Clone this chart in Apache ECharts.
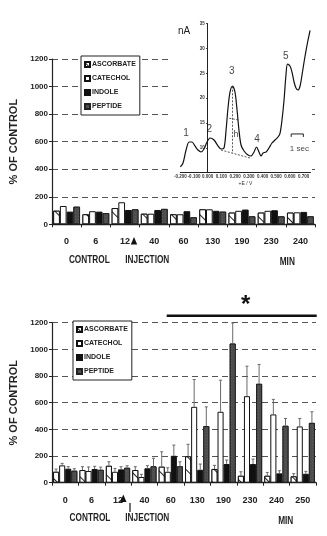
<!DOCTYPE html>
<html>
<head>
<meta charset="utf-8">
<script src="https://cdn.jsdelivr.net/npm/echarts@6/dist/echarts.min.js"></script>
<style>
  html, body { margin: 0; padding: 0; background: #fff; }
  #chart { width: 327px; height: 536px; }
</style>
</head>
<body>
<div id="chart"></div>
<script>
// ---- data ----
const seriesNames = ['ASCORBATE', 'CATECHOL', 'INDOLE', 'PEPTIDE'];
const percentTicks = [0, 200, 400, 600, 800, 1000, 1200];

// upper panel: single experiment, % of control
const upperCategories = ['0', '6', '12', '40', '60', '130', '190', '230', '240'];
const upperAscorbate = [99, 73, 118, 77, 73, 109, 85, 85, 85];
const upperCatechol  = [133, 95, 160, 77, 73, 109, 98, 98, 87];
const upperIndole    = [92, 92, 104, 104, 95, 98, 107, 102, 90];
const upperPeptide   = [128, 82, 109, 112, 51, 92, 58, 58, 58];

// lower panel: group means with upper error
const lowerCategories = ['0', '6', '12', '40', '60', '130', '190', '230', '240', '250'];
const lowerAscorbate = [82, 95, 127, 95, 120, 198, 103, 52, 52, 48];
const lowerCatechol  = [130, 88, 82, 43, 82, 569, 532, 649, 512, 422];
const lowerIndole    = [105, 103, 100, 108, 202, 97, 140, 140, 70, 67];
const lowerPeptide   = [90, 97, 112, 123, 123, 425, 1044, 742, 427, 449];
const errAscorbate = [20, 25, 30, 25, 112, 90, 27, 30, 25, 20];
const errCatechol  = [15, 30, 25, 20, 30, 205, 237, 225, 113, 60];
const errIndole    = [15, 20, 20, 20, 80, 43, 30, 37, 20, 18];
const errPeptide   = [15, 20, 15, 60, 34, 144, 154, 145, 55, 83];

// inset voltammogram: potential (V) and current (nA)
const voltPotential = [-0.199, -0.180, -0.158, -0.136, -0.115, -0.093, -0.071, -0.049, -0.027, -0.005,
  0.017, 0.046, 0.075, 0.097, 0.119, 0.134, 0.148, 0.163, 0.181, 0.199, 0.214, 0.228, 0.243, 0.265,
  0.294, 0.316, 0.338, 0.356, 0.374, 0.389, 0.404, 0.426, 0.447, 0.469, 0.491, 0.513, 0.528, 0.542,
  0.557, 0.571, 0.582, 0.600, 0.615, 0.630, 0.644, 0.659, 0.674, 0.688, 0.703, 0.718, 0.732, 0.747];
const voltCurrent = [6.15, 6.95, 9.57, 11.18, 11.18, 10.38, 9.57, 9.17, 9.77, 11.18,
  11.99, 11.58, 10.38, 9.77, 9.97, 13.60, 18.03, 21.25, 22.46, 21.25, 17.62, 13.60, 10.58, 9.37,
  8.56, 8.36, 9.17, 10.17, 9.17, 8.36, 8.97, 9.17, 9.97, 10.98, 11.58, 12.19, 12.99, 15.61,
  19.64, 24.67, 26.88, 26.48, 25.27, 23.26, 22.05, 21.65, 22.46, 24.67, 27.29, 29.70, 31.72, 33.68];
const peakLabels = [['1', -0.158, 12.9], ['2', 0.012, 13.7], ['3', 0.175, 25.5], ['4', 0.360, 11.7], ['5', 0.569, 28.5]];

// ---- styling helpers ----
const FONT = '"Liberation Sans", Arial, sans-serif';
const CAT_GAP = 0.08;

const barStyles = [
  { color: '#fff', borderColor: '#111', borderWidth: 1,
    decal: { symbol: 'rect', symbolSize: 1, color: '#222', backgroundColor: '#fff',
             dashArrayX: [1, 0], dashArrayY: [1, 9], rotation: Math.PI / 4 } },
  { color: '#fff', borderColor: '#111', borderWidth: 1 },
  { color: '#111', borderColor: '#111', borderWidth: 1 },
  { color: '#4d4d4d', borderColor: '#222', borderWidth: 1,
    decal: { symbol: 'circle', symbolSize: 0.7, color: 'rgba(255,255,255,0.35)', backgroundColor: '#4d4d4d',
             dashArrayX: [1, 2], dashArrayY: [1, 2] } }
];

function barSeries(name, idx, values, axisIdx) {
  return {
    name, type: 'bar', xAxisIndex: axisIdx, yAxisIndex: axisIdx,
    data: values, barGap: '0%', barCategoryGap: (CAT_GAP * 100) + '%',
    itemStyle: barStyles[idx], z: 2, silent: true
  };
}

function errorSeries(values, errs, barIdx, axisIdx) {
  return {
    type: 'custom', xAxisIndex: axisIdx, yAxisIndex: axisIdx, z: 3, silent: true,
    data: values.map((v, i) => [i, v, v + errs[i]]),
    renderItem(params, api) {
      const i = api.value(0);
      const base = api.coord([i, api.value(1)]);
      const top = api.coord([i, api.value(2)]);
      const band = api.size([1, 0])[0];
      const w = band * (1 - CAT_GAP) / 4;
      const x = base[0] + (barIdx - 1.5) * w;
      const st = { stroke: '#6a6a6a', lineWidth: 1 };
      return { type: 'group', children: [
        { type: 'line', shape: { x1: x, y1: base[1], x2: x, y2: top[1] }, style: st },
        { type: 'line', shape: { x1: x - 1.5, y1: top[1], x2: x + 1.5, y2: top[1] }, style: st }
      ] };
    }
  };
}

function percentAxis(gridIndex) {
  return {
    type: 'value', gridIndex, min: 0, max: 1200, interval: 200,
    name: '% OF CONTROL', nameLocation: 'middle', nameGap: 33, nameRotate: 90,
    nameTextStyle: { fontFamily: FONT, fontWeight: 'bold', fontSize: 11, color: '#222' },
    axisLine: { show: true, lineStyle: { color: '#222', width: 1.2 } },
    axisTick: { show: true, length: 3, lineStyle: { color: '#222' } },
    axisLabel: { fontFamily: FONT, fontWeight: 'bold', fontSize: 8, color: '#222', margin: 4,
                 formatter: v => percentTicks.includes(v) ? String(v) : '' },
    splitLine: { show: true, lineStyle: { color: '#555', type: [6, 4], width: 1 } }
  };
}

function categoryAxis(gridIndex, cats) {
  return {
    type: 'category', gridIndex, data: cats,
    axisLine: { show: true, lineStyle: { color: '#222', width: 1.3 } },
    axisTick: { show: true, length: 3, lineStyle: { color: '#222' } },
    axisLabel: { fontFamily: FONT, fontWeight: 'bold', fontSize: 9, color: '#222', margin: 13 }
  };
}

const legendBase = {
  orient: 'vertical', icon: 'rect', itemWidth: 5, itemHeight: 5, itemGap: 7,
  backgroundColor: '#fff', borderColor: '#222', borderWidth: 1, padding: [5, 4, 5, 3],
  textStyle: { fontFamily: FONT, fontWeight: 'bold', fontSize: 7, color: '#222', padding: [0, 0, 0, -3] },
  data: seriesNames, selectedMode: false
};

const tinyLabel = { fontFamily: FONT, fontWeight: 'bold', fontSize: 4.5, color: '#333' };

// condensed caption text placed under the axes
function caption(text, x, y) {
  return { type: 'text', z: 6, x, y, scaleX: 0.75,
    style: { text, align: 'center', verticalAlign: 'middle', font: 'bold 11px ' + FONT, fill: '#222' } };
}

const option = {
  animation: false,
  backgroundColor: '#fff',
  grid: [
    { left: 43, top: 59, width: 272, height: 165.3 },
    { left: 180.3, top: 23.7, width: 130.2, height: 149, z: 10 },
    { left: 44, top: 322.7, width: 272, height: 160 }
  ],
  legend: [
    Object.assign({}, legendBase, { left: 81, top: 56 }),
    Object.assign({}, legendBase, { left: 73, top: 321 })
  ],
  xAxis: [
    categoryAxis(0, upperCategories),
    { type: 'value', gridIndex: 1, min: -0.2, max: 0.75, interval: 0.1, z: 10,
      name: '+E / V', nameLocation: 'middle', nameGap: 8,
      nameTextStyle: { fontFamily: FONT, fontSize: 5, color: '#333' },
      axisLine: { show: true, onZero: false, lineStyle: { color: '#222', width: 1 } },
      axisTick: { show: false },
      axisLabel: Object.assign({ margin: 2, showMaxLabel: false,
        formatter: v => (v > 0.72 ? '' : v.toFixed(3)) }, tinyLabel),
      splitLine: { show: false } },
    categoryAxis(2, lowerCategories)
  ],
  yAxis: [
    percentAxis(0),
    // current axis crosses the potential axis at 0 V
    { type: 'value', gridIndex: 1, min: 5, max: 35, interval: 5, z: 10, offset: -27.4,
      axisLine: { show: true, onZero: false, lineStyle: { color: '#222', width: 1 } },
      axisTick: { show: true, length: 1.5, lineStyle: { color: '#222' } },
      axisLabel: Object.assign({ margin: 3, formatter: v => (v === 5 ? '' : String(v)) }, tinyLabel),
      splitLine: { show: false } },
    percentAxis(2)
  ],
  series: [
    barSeries('ASCORBATE', 0, upperAscorbate, 0),
    barSeries('CATECHOL', 1, upperCatechol, 0),
    barSeries('INDOLE', 2, upperIndole, 0),
    barSeries('PEPTIDE', 3, upperPeptide, 0),

    barSeries('ASCORBATE', 0, lowerAscorbate, 2),
    barSeries('CATECHOL', 1, lowerCatechol, 2),
    barSeries('INDOLE', 2, lowerIndole, 2),
    barSeries('PEPTIDE', 3, lowerPeptide, 2),
    errorSeries(lowerAscorbate, errAscorbate, 0, 2),
    errorSeries(lowerCatechol, errCatechol, 1, 2),
    errorSeries(lowerIndole, errIndole, 2, 2),
    errorSeries(lowerPeptide, errPeptide, 3, 2),

    // voltammogram trace
    { type: 'line', xAxisIndex: 1, yAxisIndex: 1, z: 12, silent: true,
      data: voltPotential.map((v, i) => [v, voltCurrent[i]]),
      symbol: 'none', smooth: 0.3,
      lineStyle: { color: '#111', width: 1.2 },
      markLine: {
        silent: true, symbol: ['none', 'none'], label: { show: false },
        lineStyle: { color: '#444', type: [2, 1.5], width: 0.9 },
        data: [
          [{ coord: [0.097, 9.57] }, { coord: [0.316, 7.9] }],
          [{ coord: [0.181, 22.4] }, { coord: [0.181, 8.93] }],
          [{ coord: [0.158, 15.95] }, { coord: [0.231, 15.6] }]
        ]
      } },
    // scale bar for time
    { type: 'line', xAxisIndex: 1, yAxisIndex: 1, z: 12, silent: true, symbol: 'none',
      data: [[0.609, 12.2], [0.609, 12.8], [0.698, 12.8], [0.698, 12.2]],
      lineStyle: { color: '#222', width: 1 } },
    // peak numbers and other inset labels
    { type: 'scatter', xAxisIndex: 1, yAxisIndex: 1, z: 12, silent: true, symbolSize: 0,
      data: peakLabels.map(p => ({ value: [p[1], p[2]], name: p[0] }))
        .concat([{ value: [0.207, 12.7], name: 'h', label: { fontSize: 9 } },
                 { value: [0.669, 9.9], name: '1 sec', label: { fontSize: 8 } }]),
      label: { show: true, position: 'inside', formatter: p => p.name,
               fontFamily: FONT, fontSize: 10, color: '#111' } }
  ],
  graphic: [
    // white field behind the inset
    { type: 'rect', z: 5, shape: { x: 170, y: 14, width: 142, height: 172 },
      style: { fill: '#fff' }, silent: true },
    { type: 'text', z: 12, left: 178, top: 26,
      style: { text: 'nA', font: '10px ' + FONT, fill: '#222' } },

    // upper panel annotations
    caption('CONTROL', 89.3, 260),
    caption('INJECTION', 147.3, 260),
    caption('MIN', 287.3, 262.3),
    { type: 'polygon', z: 6, shape: { points: [[134, 237], [130.8, 244.5], [137.2, 244.5]] }, style: { fill: '#111' } },

    // lower panel annotations
    caption('CONTROL', 90, 518.3),
    caption('INJECTION', 147.3, 518.3),
    caption('MIN', 285.7, 520.7),
    { type: 'polygon', z: 6, shape: { points: [[123.3, 494.5], [120.1, 502], [126.5, 502]] }, style: { fill: '#111' } },
    { type: 'line', z: 6, shape: { x1: 130, y1: 503, x2: 130, y2: 512 }, style: { stroke: '#111', lineWidth: 1.2 } },
    { type: 'line', z: 6, shape: { x1: 166.7, y1: 315.7, x2: 316.7, y2: 315.7 }, style: { stroke: '#111', lineWidth: 2.5 } },
    { type: 'text', z: 6, x: 245.7, y: 305, style: { text: '*', align: 'center', verticalAlign: 'middle',
      font: 'bold 24px ' + FONT, fill: '#111' } }
  ]
};

const chart = echarts.init(document.getElementById('chart'), null, { renderer: 'canvas' });
chart.setOption(option);
</script>
</body>
</html>
